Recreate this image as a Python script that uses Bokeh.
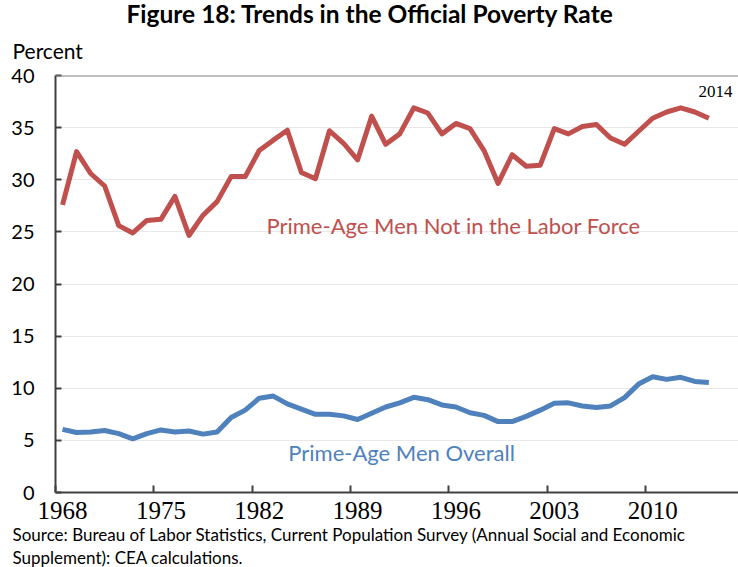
from bokeh.plotting import figure
from bokeh.models import FixedTicker, Label, Span, Range1d, Title
from bokeh.embed import file_html
from bokeh.resources import INLINE

years = list(range(1968, 2015))
not_in_lf = [27.6, 32.7, 30.6, 29.4, 25.6, 24.9, 26.1, 26.2, 28.4, 24.65,
             26.6, 27.9, 30.3, 30.3, 32.8, 33.8, 34.75, 30.7, 30.1, 34.7,
             33.5, 31.9, 36.1, 33.4, 34.4, 36.9, 36.4, 34.4, 35.4, 34.9,
             32.8, 29.65, 32.4, 31.3, 31.4, 34.9, 34.4, 35.1, 35.3, 34.0,
             33.4, 34.65, 35.9, 36.5, 36.9, 36.5, 35.9]
overall = [6.05, 5.75, 5.8, 5.95, 5.65, 5.15, 5.65, 6.0, 5.8, 5.9,
           5.6, 5.8, 7.2, 7.9, 9.05, 9.25, 8.5, 8.0, 7.5, 7.5,
           7.35, 7.0, 7.6, 8.2, 8.6, 9.13, 8.9, 8.4, 8.2, 7.65,
           7.4, 6.8, 6.8, 7.3, 7.9, 8.55, 8.6, 8.3, 8.15, 8.3,
           9.1, 10.4, 11.1, 10.85, 11.05, 10.65, 10.55]
x_tick_years = [1968, 1975, 1982, 1989, 1996, 2003, 2010]
y_ticks = [0, 5, 10, 15, 20, 25, 30, 35, 40]

RED = "#c0504d"
BLUE = "#4f81bd"

p = figure(width=738, height=567, output_backend="svg", toolbar_location=None,
           x_range=Range1d(1967.5, 2016.11), y_range=Range1d(0, 40),
           min_border_left=55, min_border_right=0, min_border_top=0, min_border_bottom=0)
p.outline_line_color = None
p.background_fill_color = "white"

p.line(years, not_in_lf, line_color=RED, line_width=5, line_join="round")
p.line(years, overall, line_color=BLUE, line_width=5, line_join="round")

# axes
xa = p.xaxis[0]
xa.ticker = FixedTicker(ticks=x_tick_years, minor_ticks=[y - 0.5 for y in x_tick_years])
xa.major_tick_in = 0
xa.major_tick_out = 0
xa.minor_tick_in = 7
xa.minor_tick_out = 0
xa.minor_tick_line_color = "#404040"
xa.minor_tick_line_width = 2
xa.axis_line_color = "#404040"
xa.axis_line_width = 2
xa.major_label_text_font = "Liberation Serif"
xa.major_label_text_font_size = "25px"
xa.major_label_text_color = "black"
xa.major_label_standoff = 9

ya = p.yaxis[0]
ya.ticker = FixedTicker(ticks=y_ticks)
ya.major_tick_in = 6
ya.major_tick_out = 0
ya.minor_tick_line_color = None
ya.major_tick_line_color = "#404040"
ya.major_tick_line_width = 2
ya.axis_line_color = "#404040"
ya.axis_line_width = 2
ya.major_label_text_font = "Lato"
ya.major_label_text_font_size = "20px"
ya.major_label_text_color = "black"
ya.major_label_standoff = 21

p.xgrid.grid_line_color = None
p.ygrid.ticker = FixedTicker(ticks=y_ticks[1:-1])
p.ygrid.grid_line_color = "#e8e8e8"
p.ygrid.grid_line_width = 1

p.add_layout(Span(location=40, dimension="width", line_color="#808080", line_width=2))

# titles above (first added is closest to the plot)
p.add_layout(Title(text="Percent", text_font="Lato", text_font_size="21px",
                   text_font_style="normal", text_color="black", align="left",
                   offset=-43, standoff=25), "above")
p.add_layout(Title(text="Figure 18: Trends in the Official Poverty Rate", text_font="Lato",
                   text_font_size="24.5px", text_font_style="bold", text_color="black",
                   align="left", offset=71, standoff=-8), "above")

# source below (after the x axis)
p.add_layout(Title(text="Source: Bureau of Labor Statistics, Current Population Survey (Annual Social and Economic",
                   text_font="Lato", text_font_size="17px", text_font_style="normal",
                   text_color="black", align="left", offset=-43, standoff=0), "below")
p.add_layout(Title(text="Supplement): CEA calculations.",
                   text_font="Lato", text_font_size="17px", text_font_style="normal",
                   text_color="black", align="left", offset=-43, standoff=0), "below")

# in-plot labels
p.add_layout(Label(x=1995.83, y=25.6, text="Prime-Age Men Not in the Labor Force",
                   text_font="Lato", text_font_size="22px", text_align="center",
                   text_baseline="middle", text_color=RED))
p.add_layout(Label(x=1992.13, y=3.84, text="Prime-Age Men Overall",
                   text_font="Lato", text_font_size="22px", text_align="center",
                   text_baseline="middle", text_color=BLUE))
p.add_layout(Label(x=2014.47, y=38.47, text="2014", text_font="Liberation Serif",
                   text_font_size="17px", text_align="center", text_baseline="middle",
                   text_color="black"))

open("out.html", "w").write(file_html(p, INLINE))
